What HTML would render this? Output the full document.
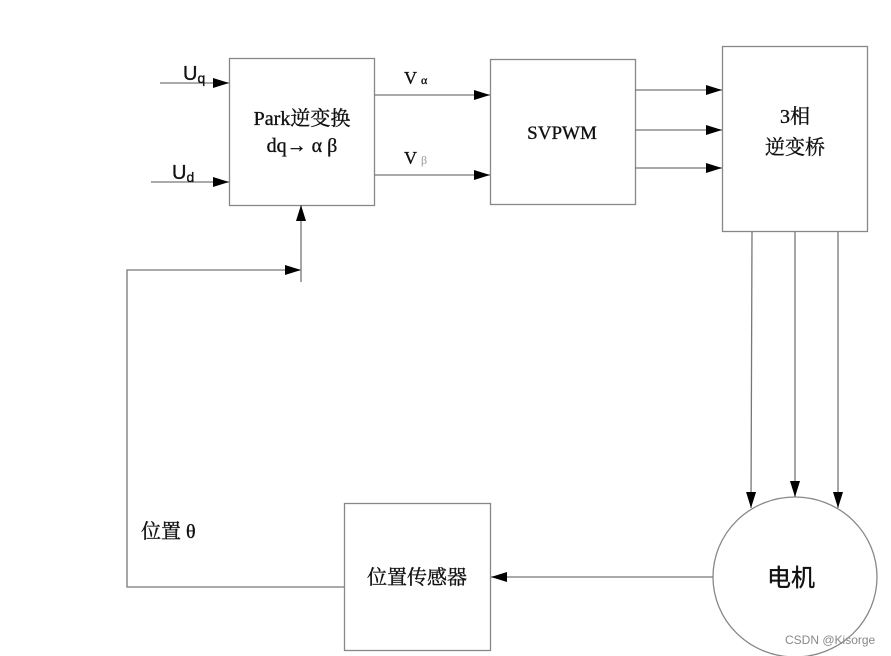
<!DOCTYPE html>
<html><head><meta charset="utf-8"><style>
html,body{margin:0;padding:0;background:#fff;}
svg{display:block;}
text{font-family:"Liberation Serif","Noto Serif CJK SC",serif;fill:#111;stroke:#111;stroke-width:0.35;}
.s{font-family:"Liberation Sans","Noto Sans CJK SC",sans-serif;}
</style></head><body>
<svg width="891" height="656" viewBox="0 0 891 656" xmlns="http://www.w3.org/2000/svg">
<defs>
<marker id="a" markerWidth="16" markerHeight="10" refX="16" refY="5" orient="auto" markerUnits="userSpaceOnUse">
<path d="M0,0 L16,5 L0,10 Z" fill="#000"/></marker>
</defs>
<g fill="none" stroke="#888" stroke-width="1.3">
<rect x="229.5" y="58.5" width="145" height="147"/>
<rect x="490.5" y="59.5" width="145" height="145"/>
<rect x="722.5" y="46.5" width="145" height="185"/>
<rect x="344.5" y="503.5" width="146" height="147"/>
<ellipse cx="795" cy="577" rx="82" ry="80"/>
</g>
<g stroke="#777" stroke-width="1.3" fill="none">
<line x1="160" y1="83" x2="229" y2="83" marker-end="url(#a)"/>
<line x1="151" y1="182" x2="229" y2="182" marker-end="url(#a)"/>
<line x1="374" y1="95" x2="490" y2="95" marker-end="url(#a)"/>
<line x1="374" y1="175" x2="490" y2="175" marker-end="url(#a)"/>
<line x1="635" y1="90" x2="722" y2="90" marker-end="url(#a)"/>
<line x1="635" y1="130" x2="722" y2="130" marker-end="url(#a)"/>
<line x1="635" y1="168" x2="722" y2="168" marker-end="url(#a)"/>
<line x1="752" y1="232" x2="751" y2="508" marker-end="url(#a)"/>
<line x1="795" y1="232" x2="795" y2="497" marker-end="url(#a)"/>
<line x1="838" y1="232" x2="838" y2="508" marker-end="url(#a)"/>
<line x1="713" y1="577" x2="491" y2="577" marker-end="url(#a)"/>
<polyline points="344,587 127,587 127,270 301,270" marker-end="url(#a)"/>
<line x1="301" y1="282" x2="301" y2="205" marker-end="url(#a)"/>
</g>
<text class="s" x="183" y="80" font-size="20">U<tspan font-size="14" dy="3">q</tspan></text>
<text class="s" x="172" y="179" font-size="20">U<tspan font-size="14" dy="3">d</tspan></text>
<text x="302" y="125" font-size="20" text-anchor="middle">Park逆变换</text>
<text x="302" y="152" font-size="20" text-anchor="middle">dq→ α β</text>
<text x="404" y="84" font-size="18">V<tspan font-size="12" dx="4">α</tspan></text>
<text x="404" y="164" font-size="18">V<tspan font-size="12" dx="4" style="fill:#999;stroke:none">β</tspan></text>
<text x="562" y="139" font-size="19" text-anchor="middle">SVPWM</text>
<text x="795" y="123" font-size="20" text-anchor="middle">3相</text>
<text x="795" y="154" font-size="20" text-anchor="middle">逆变桥</text>
<text x="141" y="538" font-size="20">位置 θ</text>
<text x="417" y="584" font-size="20" text-anchor="middle">位置传感器</text>
<text class="s" x="791" y="586" font-size="24" text-anchor="middle">电机</text>
<text class="s" x="785" y="644" font-size="12" style="fill:#888;stroke:none">CSDN @Kisorge</text>
</svg>
</body></html>
